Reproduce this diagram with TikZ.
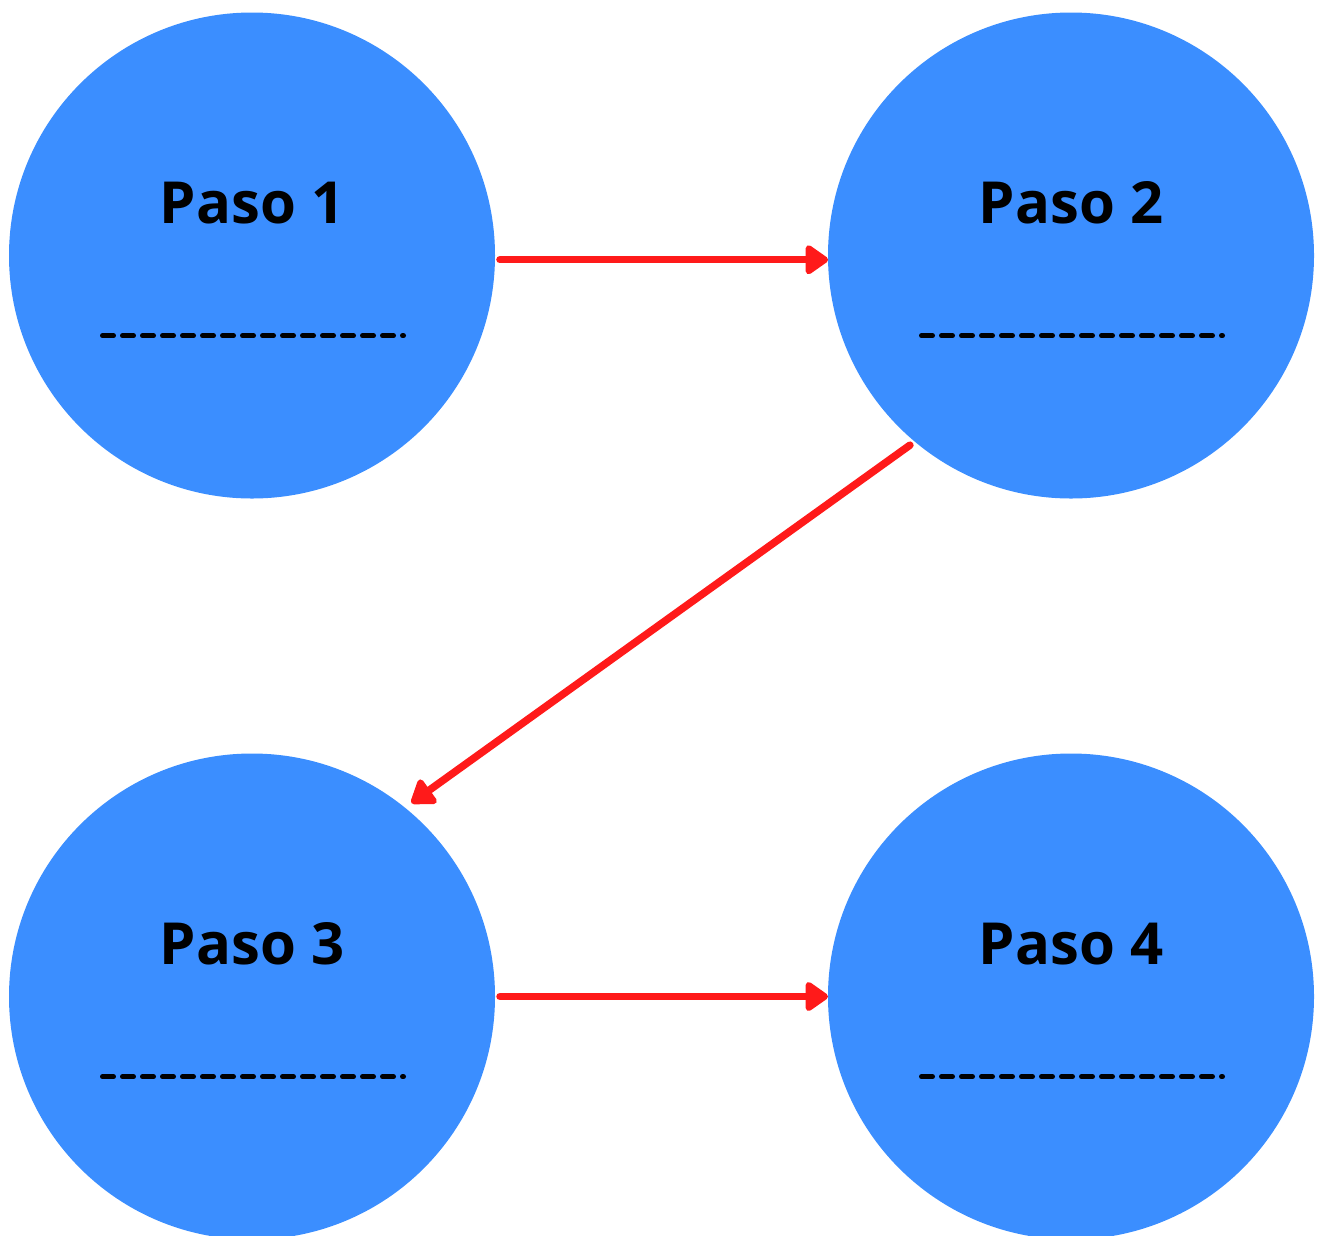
\documentclass[tikz,border=0pt]{standalone}
\usepackage{fontspec}
\setmainfont{Open Sans}
\usetikzlibrary{arrows.meta}
\definecolor{stepblue}{HTML}{3B8EFF}
\definecolor{arrowred}{HTML}{FF1A1A}
\tikzset{
  stepcircle/.style={circle, fill=stepblue, minimum size=486pt, inner sep=0pt, outer sep=0pt},
  steptitle/.style={anchor=base, font=\fontsize{58}{60}\selectfont\bfseries, text=black, inner sep=0pt},
  dashline/.style={line width=5pt, line cap=round, dash pattern=on 11pt off 9pt, draw=black},
  redarrow/.style={draw=arrowred, line width=7.5pt, line cap=round, -{Triangle[length=25pt,width=33pt,round]}}
}
\begin{document}
\begin{tikzpicture}[x=1pt,y=-1pt]
\useasboundingbox (0,0) rectangle (1317,1235);
\clip (0,0) rectangle (1317,1235);
\node[stepcircle] (c1) at (252,255.5) {};
\node[stepcircle] (c2) at (1071,255.5) {};
\node[stepcircle] (c3) at (252,996.5) {};
\node[stepcircle] (c4) at (1071,996.5) {};
\node[steptitle] (t1) at (252,223) {Paso 1};
\node[steptitle] (t2) at (1071,223) {Paso 2};
\node[steptitle] (t3) at (252,964) {Paso 3};
\node[steptitle] (t4) at (1071,964) {Paso 4};
\foreach \dx/\dy in {0/0, 819/0, 0/741, 819/741}{
  \draw[dashline] (102.5+\dx,335.7+\dy) -- (403.5+\dx,335.7+\dy);
}
\draw[redarrow, shorten <=5pt] (c1.-1.1) -- (c2.181.1);
\draw[redarrow, shorten <=6pt, shorten >=8pt] (c2.230.4) -- (c3.51.8);
\draw[redarrow, shorten <=5pt] (c3.-0.9) -- (c4.180.9);
\end{tikzpicture}
\end{document}
